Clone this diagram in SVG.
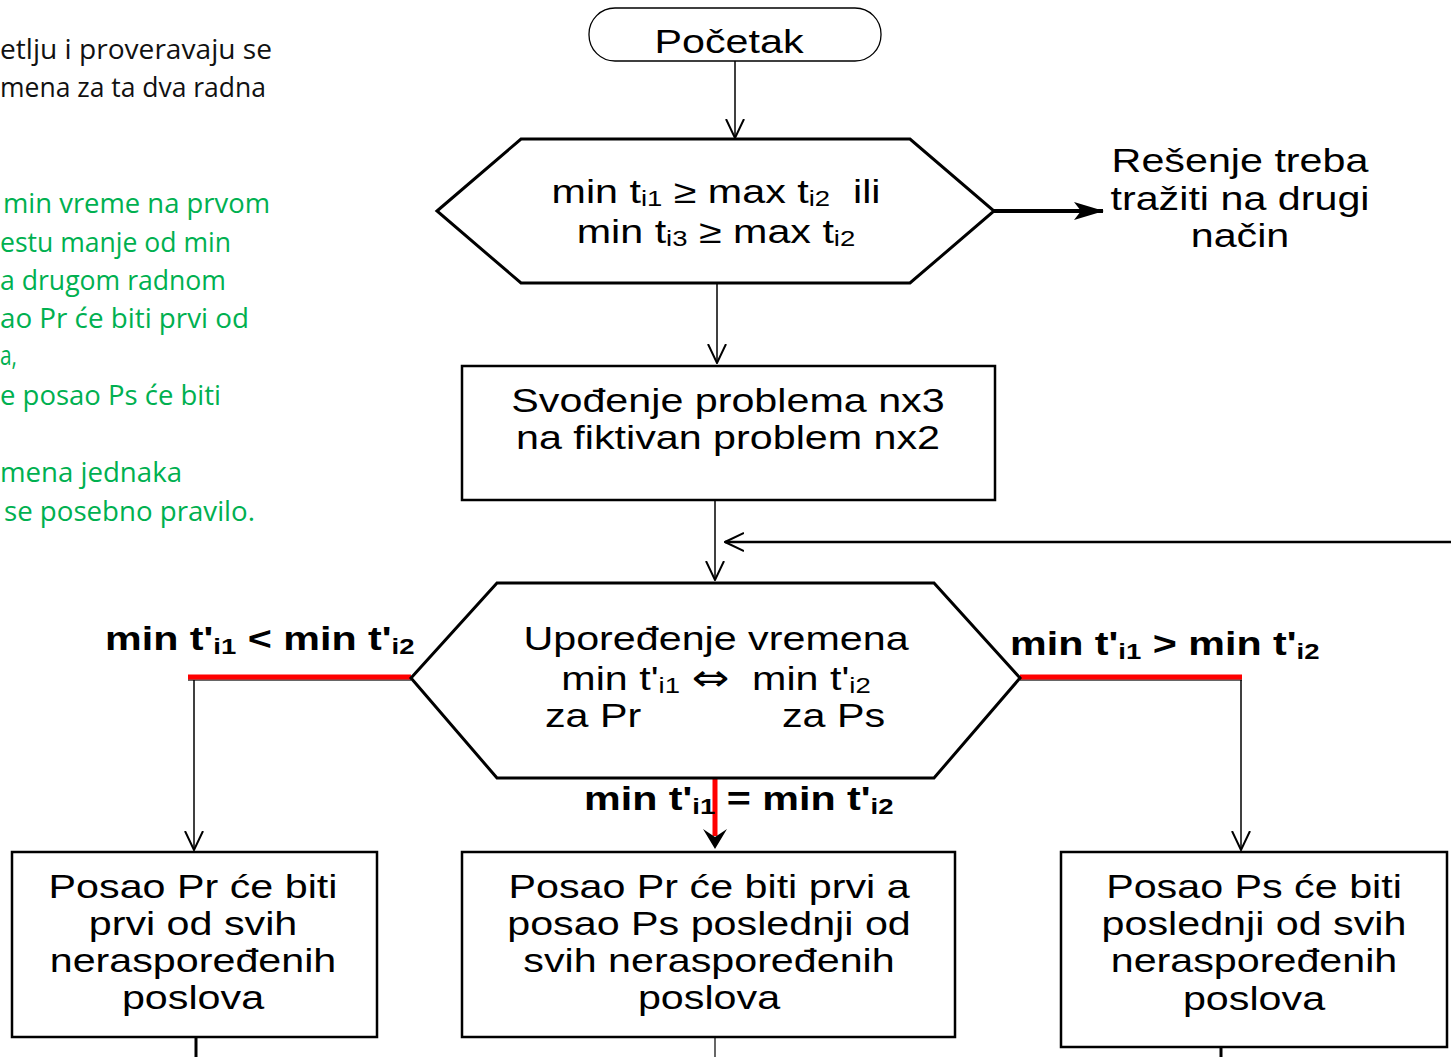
<svg xmlns="http://www.w3.org/2000/svg" width="1451" height="1057" viewBox="0 0 1451 1057">
  <style>
    .t { font-family: "Liberation Sans", Arial, sans-serif; font-size: 33px; fill: #000; }
    .b { font-family: "Liberation Sans", Arial, sans-serif; font-size: 33px; font-weight: bold; fill: #000; }
    .sub { font-size: 22px; }
    .sym { font-family: "DejaVu Sans", sans-serif; font-size: 36px; }
    .note { font-family: "Open Sans", "Noto Sans", sans-serif; font-size: 28px; }
    .blk { fill: #111; }
    .grn { fill: #00B050; }
    .shape { fill: #fff; stroke: #000; stroke-width: 3; }
    .box { fill: #fff; stroke: #000; stroke-width: 2.5; }
    .line { fill: none; stroke: #000; stroke-width: 1.5; }
  </style>
  <defs>
    <marker id="open" viewBox="0 0 20 20" refX="19" refY="10" markerWidth="20" markerHeight="20" markerUnits="userSpaceOnUse" orient="auto">
      <path d="M0,1 L19,10 L0,19" fill="none" stroke="#000" stroke-width="2"/>
    </marker>
    <marker id="solid" viewBox="0 0 30 18" refX="29" refY="9" markerWidth="30" markerHeight="18" markerUnits="userSpaceOnUse" orient="auto">
      <path d="M0,0 L30,9 L0,18 L7,9 Z" fill="#000"/>
    </marker>
  </defs>

  <rect width="1451" height="1057" fill="#fff"/>

  <!-- side notes -->
  <g id="notes">
    <text class="note blk" x="0" y="59" textLength="272" lengthAdjust="spacingAndGlyphs">etlju i proveravaju se</text>
    <text class="note blk" x="0" y="97" textLength="266" lengthAdjust="spacingAndGlyphs">mena za ta dva radna</text>
    <text class="note grn" x="3" y="213" textLength="267" lengthAdjust="spacingAndGlyphs">min vreme na prvom</text>
    <text class="note grn" x="0" y="252" textLength="231" lengthAdjust="spacingAndGlyphs">estu manje od min</text>
    <text class="note grn" x="0" y="290" textLength="226" lengthAdjust="spacingAndGlyphs">a drugom radnom</text>
    <text class="note grn" x="0" y="328" textLength="249" lengthAdjust="spacingAndGlyphs">ao Pr će biti prvi od</text>
    <text class="note grn" x="0" y="365" textLength="17" lengthAdjust="spacingAndGlyphs">a,</text>
    <text class="note grn" x="0" y="405" textLength="221" lengthAdjust="spacingAndGlyphs">e posao Ps će biti</text>
    <text class="note grn" x="0" y="482" textLength="182" lengthAdjust="spacingAndGlyphs">mena jednaka</text>
    <text class="note grn" x="4" y="521" textLength="251" lengthAdjust="spacingAndGlyphs">se posebno pravilo.</text>
  </g>

  <!-- connectors -->
  <g id="connectors">
    <line class="line" x1="735" y1="61" x2="735" y2="138" marker-end="url(#open)"/>
    <line x1="994" y1="211" x2="1103" y2="211" stroke="#000" stroke-width="4" marker-end="url(#solid)"/>
    <line class="line" x1="717" y1="283" x2="717" y2="363" marker-end="url(#open)"/>
    <line class="line" x1="715" y1="500" x2="715" y2="580" marker-end="url(#open)"/>
    <line x1="1451" y1="542" x2="725" y2="542" stroke="#000" stroke-width="2.5" marker-end="url(#open)"/>
    <!-- left branch -->
    <line x1="188" y1="680" x2="411" y2="680" stroke="#333" stroke-width="1.5"/>
    <line x1="188" y1="677" x2="411" y2="677" stroke="#f00" stroke-width="5"/>
    <line class="line" x1="194" y1="680" x2="194" y2="850" marker-end="url(#open)"/>
    <!-- right branch -->
    <line x1="1020" y1="680" x2="1242" y2="680" stroke="#333" stroke-width="1.5"/>
    <line x1="1020" y1="677" x2="1242" y2="677" stroke="#f00" stroke-width="5"/>
    <line class="line" x1="1241" y1="680" x2="1241" y2="850" marker-end="url(#open)"/>
    <!-- middle branch -->
    <line x1="715" y1="779" x2="715" y2="836" stroke="#f00" stroke-width="5"/>
    <path d="M703,829 L715,849 L727,829 L715,837 Z" fill="#000"/>
    <!-- exits below the result boxes -->
    <line x1="196" y1="1037" x2="196" y2="1057" stroke="#000" stroke-width="3"/>
    <line x1="715" y1="1037" x2="715" y2="1057" stroke="#000" stroke-width="1.2"/>
    <line x1="1221" y1="1047" x2="1221" y2="1057" stroke="#000" stroke-width="3"/>
  </g>

  <!-- start -->
  <g id="start">
    <rect x="589" y="8" width="292" height="53" rx="26" fill="#fff" stroke="#000" stroke-width="1.3"/>
    <text class="t" text-anchor="middle" transform="translate(729 53) scale(1.25 1)">Početak</text>
  </g>

  <!-- feasibility check -->
  <g id="check">
    <polygon class="shape" points="437,211 521,139 910,139 994,211 910,283 521,283"/>
    <text class="t" text-anchor="middle" xml:space="preserve" transform="translate(716 203) scale(1.25 1)">min t<tspan class="sub" dy="3">i1</tspan><tspan dy="-3"> ≥ max t</tspan><tspan class="sub" dy="3">i2</tspan><tspan dy="-3">  ili</tspan></text>
    <text class="t" text-anchor="middle" transform="translate(716 243) scale(1.25 1)">min t<tspan class="sub" dy="3">i3</tspan><tspan dy="-3"> ≥ max t</tspan><tspan class="sub" dy="3">i2</tspan></text>
  </g>

  <!-- other approach -->
  <g id="other">
    <text class="t" text-anchor="middle" transform="translate(1240 172) scale(1.25 1)">Rešenje treba</text>
    <text class="t" text-anchor="middle" transform="translate(1240 210) scale(1.25 1)">tražiti na drugi</text>
    <text class="t" text-anchor="middle" transform="translate(1240 247) scale(1.25 1)">način</text>
  </g>

  <!-- reduction -->
  <g id="reduce">
    <rect class="box" x="462" y="366" width="533" height="134"/>
    <text class="t" text-anchor="middle" transform="translate(728 412) scale(1.25 1)">Svođenje problema nx3</text>
    <text class="t" text-anchor="middle" transform="translate(728 449) scale(1.25 1)">na fiktivan problem nx2</text>
  </g>

  <!-- comparison -->
  <g id="compare">
    <polygon class="shape" points="411,678 497,583 934,583 1020,678 934,778 497,778"/>
    <text class="t" text-anchor="middle" transform="translate(716 650) scale(1.25 1)">Upoređenje vremena</text>
    <text class="t" text-anchor="middle" xml:space="preserve" transform="translate(716 690) scale(1.25 1)">min t'<tspan class="sub" dy="3">i1</tspan><tspan dy="-3"> </tspan><tspan class="sym">⇔</tspan><tspan>  min t'</tspan><tspan class="sub" dy="3">i2</tspan></text>
    <text class="t" transform="translate(545 727) scale(1.25 1)">za Pr</text>
    <text class="t" transform="translate(782 727) scale(1.25 1)">za Ps</text>
  </g>

  <!-- branch labels -->
  <g id="labels">
    <text class="b" transform="translate(105 650) scale(1.25 1)">min t'<tspan class="sub" dy="4">i1</tspan><tspan dy="-4"> &lt; min t'</tspan><tspan class="sub" dy="4">i2</tspan></text>
    <text class="b" transform="translate(1010 655) scale(1.25 1)">min t'<tspan class="sub" dy="4">i1</tspan><tspan dy="-4"> &gt; min t'</tspan><tspan class="sub" dy="4">i2</tspan></text>
    <text class="b" transform="translate(584 810) scale(1.25 1)">min t'<tspan class="sub" dy="4">i1</tspan><tspan dy="-4"> = min t'</tspan><tspan class="sub" dy="4">i2</tspan></text>
  </g>

  <!-- results -->
  <g id="first">
    <rect class="box" x="12" y="852" width="365" height="185"/>
    <text class="t" text-anchor="middle" transform="translate(193 898) scale(1.25 1)">Posao Pr će biti</text>
    <text class="t" text-anchor="middle" transform="translate(193 935) scale(1.25 1)">prvi od svih</text>
    <text class="t" text-anchor="middle" transform="translate(193 972) scale(1.25 1)">neraspoređenih</text>
    <text class="t" text-anchor="middle" transform="translate(193 1009) scale(1.25 1)">poslova</text>
  </g>
  <g id="both">
    <rect class="box" x="462" y="852" width="493" height="185"/>
    <text class="t" text-anchor="middle" transform="translate(709 898) scale(1.25 1)">Posao Pr će biti prvi a</text>
    <text class="t" text-anchor="middle" transform="translate(709 935) scale(1.25 1)">posao Ps poslednji od</text>
    <text class="t" text-anchor="middle" transform="translate(709 972) scale(1.25 1)">svih neraspoređenih</text>
    <text class="t" text-anchor="middle" transform="translate(709 1009) scale(1.25 1)">poslova</text>
  </g>
  <g id="last">
    <rect class="box" x="1061" y="852" width="386" height="195"/>
    <text class="t" text-anchor="middle" transform="translate(1254 898) scale(1.25 1)">Posao Ps će biti</text>
    <text class="t" text-anchor="middle" transform="translate(1254 935) scale(1.25 1)">poslednji od svih</text>
    <text class="t" text-anchor="middle" transform="translate(1254 972) scale(1.25 1)">neraspoređenih</text>
    <text class="t" text-anchor="middle" transform="translate(1254 1010) scale(1.25 1)">poslova</text>
  </g>
</svg>
